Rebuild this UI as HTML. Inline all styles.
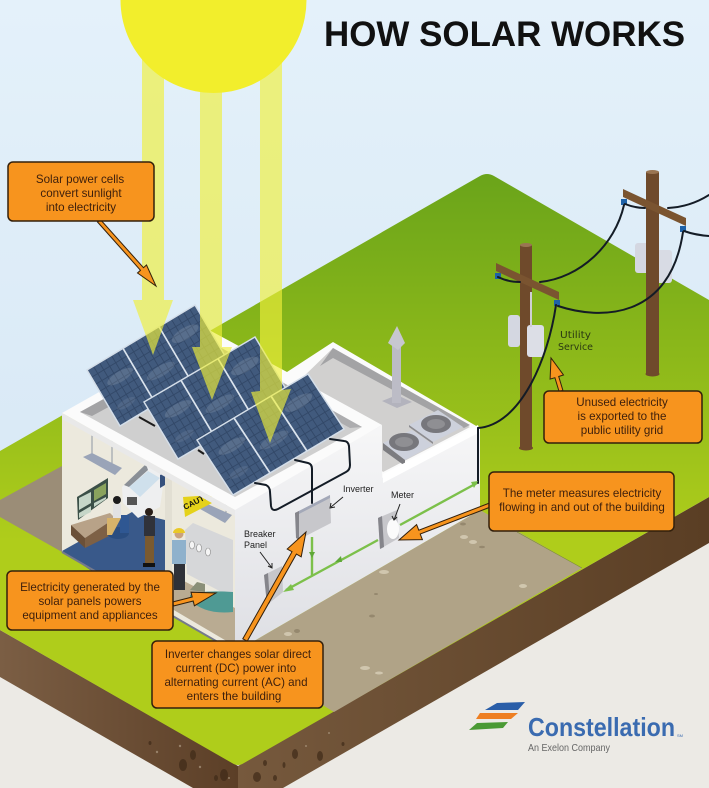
<!DOCTYPE html>
<html lang="en">
<head>
<meta charset="utf-8">
<title>How Solar Works</title>
<style>
html,body{margin:0;padding:0;width:709px;height:788px;overflow:hidden;background:#eceae5}
svg{display:block;filter:blur(.3px)}
text{font-family:"Liberation Sans",sans-serif}
.c{fill:#f7941e;stroke:#33200c;stroke-width:1.5}
.ct{fill:#3d1f0c;font-size:11.6px;text-anchor:middle}
.ar{fill:#f7941e;stroke:#33200c;stroke-width:1;stroke-linejoin:miter}
.w{fill:none;stroke:#141c26;stroke-width:2;stroke-linecap:round}
.l{fill:#222;font-size:9px}
.ld{stroke:#222;stroke-width:1;fill:none}
.g{fill:none;stroke:#7cc04a;stroke-width:2.4}
</style>
</head>
<body>
<svg width="709" height="788" viewBox="0 0 709 788" xmlns="http://www.w3.org/2000/svg">
<defs>
<linearGradient id="sky" x1="0" y1="0" x2="0" y2="1"><stop offset="0" stop-color="#e4f1fa"/><stop offset="1" stop-color="#d9e9f6"/></linearGradient>
<linearGradient id="grass" gradientUnits="userSpaceOnUse" x1="0" y1="173" x2="0" y2="540"><stop offset="0" stop-color="#6aa41a"/><stop offset="1" stop-color="#afcd1b"/></linearGradient>
<linearGradient id="soilL" gradientUnits="userSpaceOnUse" x1="0" y1="0" x2="238" y2="0"><stop offset="0" stop-color="#7b5e44"/><stop offset="1" stop-color="#5c3f27"/></linearGradient>
<linearGradient id="soilR" gradientUnits="userSpaceOnUse" x1="238" y1="0" x2="709" y2="0"><stop offset="0" stop-color="#76593d"/><stop offset="1" stop-color="#5a3e24"/></linearGradient>
<linearGradient id="wall" gradientUnits="userSpaceOnUse" x1="0" y1="430" x2="0" y2="640"><stop offset="0" stop-color="#f6f6f7"/><stop offset="1" stop-color="#dfe0e5"/></linearGradient>
<pattern id="cells" patternUnits="userSpaceOnUse" width="16.66" height="12.5">
<rect width="16.66" height="12.5" fill="#415a7d"/>
<rect x="0" y="0" width="2.2" height="12.5" fill="#324868"/>
<rect x="0" y="0" width="16.66" height="1.4" fill="#324868"/>
</pattern>
<g id="row">
<rect x="0" y="0" width="300" height="100" fill="url(#cells)"/>
<ellipse cx="60" cy="35" rx="35" ry="8" fill="#fff" opacity=".12"/>
<ellipse cx="150" cy="60" rx="38" ry="8" fill="#fff" opacity=".11"/>
<ellipse cx="245" cy="30" rx="36" ry="9" fill="#fff" opacity=".12"/>
<ellipse cx="40" cy="75" rx="25" ry="6" fill="#fff" opacity=".08"/>
<rect x="98" y="0" width="4" height="100" fill="#dbe4ee"/>
<rect x="198" y="0" width="4" height="100" fill="#dbe4ee"/>
<rect x="0" y="0" width="300" height="100" fill="none" stroke="#d4dee9" stroke-width="1.5" vector-effect="non-scaling-stroke"/>
</g>
</defs>

<!-- background -->
<rect width="709" height="788" fill="#eceae5"/>
<rect width="709" height="470" fill="url(#sky)"/>

<!-- soil -->
<polygon points="0,630 238,766 238,788 193,788 0,677" fill="url(#soilL)"/>
<polygon points="238,766 709,497 709,543 283,788 238,788" fill="url(#soilR)"/>

<!-- ground -->
<path d="M0,451 L480,176 Q487,172 494,176 L709,300 L709,497 L244,763 Q238,767 232,763 L0,630 Z" fill="url(#grass)"/>

<!-- soil speckles -->
<g fill="#3f2a18" opacity=".7">
<ellipse cx="224" cy="775" rx="4" ry="6"/><ellipse cx="193" cy="755" rx="3" ry="5"/><ellipse cx="183" cy="765" rx="4" ry="6"/><ellipse cx="216" cy="778" rx="2" ry="3"/><ellipse cx="150" cy="743" rx="1.5" ry="2"/>
<ellipse cx="257" cy="777" rx="4" ry="5"/><ellipse cx="275" cy="778" rx="2" ry="3"/><ellipse cx="265" cy="763" rx="2" ry="3"/><ellipse cx="284" cy="765" rx="1.5" ry="3"/><ellipse cx="295" cy="754" rx="3" ry="5"/><ellipse cx="320" cy="756" rx="3" ry="5"/><ellipse cx="343" cy="744" rx="1.5" ry="2"/>
</g>
<g fill="#b8a68f" opacity=".6">
<circle cx="180" cy="746" r="1.2"/><circle cx="157" cy="752" r="1.2"/><circle cx="200" cy="767" r="1.2"/><circle cx="229" cy="778" r="1"/><circle cx="329" cy="733" r="1"/><circle cx="306" cy="746" r="1"/>
</g>

<!-- tan pads -->
<polygon points="0,500 62,466 62,552 0,517" fill="#9b8d77"/>
<polygon points="480,510 582,568 334,712 235,652" fill="#b0a387"/>
<line x1="517" y1="532" x2="582" y2="568" stroke="#7e8f35" stroke-width=".7"/>
<g fill="#8f8269" opacity=".8"><ellipse cx="463" cy="524" rx="3" ry="1.5"/><ellipse cx="482" cy="547" rx="3" ry="1.3"/><ellipse cx="372" cy="616" rx="3" ry="1.5"/><ellipse cx="297" cy="631" rx="3" ry="2"/><ellipse cx="376" cy="594" rx="2" ry="1"/><ellipse cx="298" cy="653" rx="3" ry="1.5"/></g>
<g fill="#d8cfb8" opacity=".8"><ellipse cx="464" cy="537" rx="4" ry="2"/><ellipse cx="473" cy="542" rx="4" ry="2"/><ellipse cx="384" cy="572" rx="5" ry="2"/><ellipse cx="523" cy="586" rx="4" ry="2"/><ellipse cx="288" cy="634" rx="4" ry="2"/><ellipse cx="365" cy="668" rx="5" ry="2"/><ellipse cx="379" cy="673" rx="4" ry="1.5"/></g>

<!-- back section roof -->
<polygon points="209,330 287,372 333,342 478,427 383,482 209,440" fill="#fbfbfb"/>
<polygon points="300,380 333,348 470,427 383,472" fill="#d1d0cf"/>
<polygon points="320,366 333,348 470,425 464,428 333,358" fill="#a3a3a5"/>

<!-- vent -->
<polygon points="382,401 397,395 412,402 397,408" fill="#b3b3bd"/>
<rect x="392" y="343" width="9" height="60" fill="#bcbcc6"/>
<polygon points="397,326 405,343 398,350 388,343" fill="#c7c7cf"/>

<!-- fans -->
<g>
<polygon points="409,425 438,410 463,427 433,442" fill="#cdd1dc"/>
<polygon points="409,425 433,442 433,444 409,427" fill="#8c8c90"/>
<ellipse cx="436" cy="424" rx="15" ry="9" fill="#77777c"/>
<ellipse cx="436" cy="424" rx="9" ry="5" fill="#8f8f93"/>
<polygon points="383,443 412,430 433,445 405,460" fill="#cdd1dc"/>
<polygon points="383,443 405,460 405,466 383,450" fill="#7c7c80"/>
<ellipse cx="404" cy="442" rx="15" ry="9" fill="#77777c"/>
<ellipse cx="404" cy="442" rx="9" ry="5" fill="#8f8f93"/>
</g>

<!-- outer walls -->
<polygon points="235,508 382,425 382,478 480,427 480,510 235,652" fill="url(#wall)"/>
<polygon points="383,474 478,425 480,432 383,483" fill="#fff"/>

<!-- interior cutaway -->
<polygon points="62,413 235,508 235,652 62,552" fill="#ece9dd"/>
<polygon points="62,551 132,512 165,520 165,590 120,590" fill="#39598a"/>
<polygon points="167,572 235,608 235,646 167,606" fill="#b9ab92"/>
<polygon points="165,473 172,477 172,600 165,600" fill="#e2dfd3"/>
<line x1="62" y1="552" x2="235" y2="652" stroke="#757a8b" stroke-width="2"/>

<!-- lamps -->
<g stroke="#8e96a4" stroke-width="1"><line x1="92" y1="430" x2="92" y2="455"/><line x1="112" y1="440" x2="112" y2="465"/><line x1="207" y1="490" x2="207" y2="505"/><line x1="226" y1="500" x2="226" y2="518"/></g>
<polygon points="83,457 92,453 122,468 115,475" fill="#9aa4b8"/>
<polygon points="193,505 203,502 232,515 225,523" fill="#9aa4b8"/>

<!-- monitors -->
<polygon points="77,497 108,478 108,498 78,520" fill="#3b4f47"/>
<polygon points="79,498 91,492 91,503 79,510" fill="#c6d6c8"/>
<polygon points="94,490 106,483 106,494 94,501" fill="#8aa35d"/>
<polygon points="79,513 91,506 91,512 79,518" fill="#c6d6c8"/>
<polygon points="94,503 106,497 106,499 94,507" fill="#c6d6c8"/>

<!-- desk -->
<polygon points="71,525 110,513 115,518 85,538" fill="#b8a288"/>
<polygon points="71,525 85,538 85,548 71,535" fill="#6b5038"/>
<polygon points="85,538 115,518 115,533 85,548" fill="#7d6045"/>

<!-- copier -->
<polygon points="122,487 147,463 165,473 160,507 138,518 123,503" fill="#eeeff0"/>
<polygon points="124,485 146,464 148,470 129,487" fill="#8a8f96"/>
<polygon points="129,487 148,471 160,478 140,497" fill="#cfe0ec"/>
<rect x="127" y="497" width="10" height="8" fill="#555"/>
<polygon points="160,475 165,473 165,485 160,488" fill="#35507c"/>

<!-- seated person -->
<ellipse cx="118" cy="533" rx="11" ry="6" fill="#2a4d80"/>
<rect x="120" y="515" width="9" height="18" fill="#2f5792"/>
<circle cx="117" cy="500" r="4" fill="#1b1b1b"/>
<rect x="113" y="504" width="8" height="14" fill="#e2e2e2"/>
<polygon points="107,518 121,518 112,535 107,535" fill="#d7b36a"/>

<!-- standing person 1 -->
<circle cx="149" cy="512" r="4" fill="#2a1f18"/>
<rect x="144" y="516" width="11" height="20" fill="#30323a"/>
<rect x="145" y="536" width="9" height="28" fill="#7a5a30"/>
<rect x="143" y="563" width="12" height="4" fill="#111"/>

<!-- cabinet -->
<polygon points="185,530 193,523 233,540 233,598 187,574" fill="#d6d7d9"/>
<g fill="#f5f5f5" stroke="#8c8c8c" stroke-width=".6"><ellipse cx="192" cy="545" rx="2.5" ry="4"/><ellipse cx="199" cy="548" rx="2.5" ry="4"/><ellipse cx="208" cy="552" rx="2.5" ry="4"/></g>
<path d="M190,595 Q200,590 233,592 L233,612 Q205,615 190,600 Z" fill="#4f9a94"/>
<path d="M190,590 l7,-8 l8,2 l0,8 Z" fill="#8a8f78"/>

<!-- standing person 2 -->
<circle cx="179" cy="534" r="4.5" fill="#caa27d"/>
<path d="M173,533 a6,5 0 0 1 12,0 Z" fill="#e9c827"/>
<rect x="172" y="540" width="14" height="24" fill="#8fb1cc"/>
<rect x="174" y="564" width="11" height="26" fill="#2f3138"/>

<!-- caution sign -->
<polygon points="183,497 212,495 212,503 185,517" fill="#e5d21a"/>
<text x="185" y="510" transform="rotate(-27 185 510)" font-size="8" font-weight="700" fill="#111">CAUTI</text>

<!-- front section roof -->
<polygon points="62,413 209,330 382,425 235,510" fill="#fbfbfb"/>
<polygon points="80,412 209,341 362,427 235,497" fill="#cfcfcf"/>
<polygon points="80,412 209,341 213,350 92,416" fill="#a3a3a5"/>
<polygon points="209,341 362,427 350,428 211,350" fill="#adadaf"/>
<polygon points="62,413 235,510 235,516 62,419" fill="#e9e9e9"/>

<!-- mounts -->
<g stroke="#1c1c1c" stroke-width="2"><line x1="139" y1="417" x2="155" y2="426"/><line x1="198" y1="450" x2="204" y2="454"/></g>

<!-- panels -->
<use href="#row" transform="matrix(.36 -.2167 .33 .56 87 370)"/>
<use href="#row" transform="matrix(.37 -.2167 .34 .57 144 402)"/>
<use href="#row" transform="matrix(.37 -.22 .36 .55 197 440)"/>

<!-- wall wiring -->
<path class="w" d="M255,483 L266,485 Q270,487 270,492 L271,506 Q272,512 278,509 L346,472 Q350,470 350,465 L349,446 Q348,441 344,441 L330,439"/>
<path class="w" d="M295,460 L308,463 Q312,464 312,469 L312,503"/>
<path class="w" d="M478,428 L478,483" stroke-width="1.6"/>

<!-- green lines -->
<path class="g" d="M477,483 L400,525"/>
<polygon points="478,481 471,482 474,488" fill="#7cc04a"/>
<path class="g" d="M378,540 L286,590"/>
<polygon points="283,592 291,584 294,590" fill="#7cc04a"/>
<path class="g" d="M312,537 L312,575"/>
<polygon points="309,552 315,552 312,558" fill="#5fa838"/>
<polygon points="335,562 341,556 342,562" fill="#5fa838"/>

<!-- inverter, meter, breaker -->
<polygon points="295,513 330,495 331,523 298,540" fill="#c7c7cb"/>
<polygon points="295,513 330,495 330,498 299,514" fill="#a3a8b8"/>
<polygon points="295,513 299,511 299,540 296,538" fill="#85858b"/>
<polygon points="378,518 397,510 399,538 380,549" fill="#c7c7cb"/>
<polygon points="378,518 382,516 384,547 380,549" fill="#85858b"/>
<ellipse cx="393" cy="529" rx="6" ry="10" fill="#fbfbfb"/>
<polygon points="264,575 282,566 283,592 267,605" fill="#c7c7cb"/>
<polygon points="264,575 268,573 270,603 267,605" fill="#85858b"/>

<!-- small labels -->
<text class="l" x="343" y="492">Inverter</text>
<text class="l" x="391" y="498">Meter</text>
<text class="l" x="244" y="537">Breaker</text>
<text class="l" x="244" y="548">Panel</text>
<path class="ld" d="M343,497 L331,507 M331,503 L330,508 L335,507"/>
<path class="ld" d="M400,504 L394,520 M392,516 L394,520 L397,517"/>
<path class="ld" d="M260,552 L272,568 M268,566 L272,568 L272,563"/>

<!-- poles -->
<g>
<rect x="635" y="243" width="20" height="30" rx="3" fill="#d4d7e1"/>
<rect x="655" y="250" width="17" height="33" rx="3" fill="#d8dbe4"/>
<rect x="646" y="172" width="13" height="202" fill="#6f4a2b"/>
<ellipse cx="652.5" cy="172" rx="6.5" ry="2" fill="#9a7552"/>
<ellipse cx="652.5" cy="374" rx="7" ry="2.5" fill="#6f4a2b"/>
<polygon points="623,189 686,218 686,226 623,197" fill="#7a5430"/>
<rect x="520" y="245" width="12" height="203" fill="#6f4a2b"/>
<ellipse cx="526" cy="245" rx="6" ry="2" fill="#9a7552"/>
<ellipse cx="526" cy="448" rx="7" ry="2.5" fill="#6f4a2b"/>
<rect x="508" y="315" width="12" height="32" rx="3" fill="#d4d7e1"/>
<rect x="527" y="325" width="17" height="32" rx="3" fill="#dcdee6"/>
<rect x="530" y="292" width="2" height="35" fill="#cfcfd4"/>
<polygon points="496,263 559,292 559,300 496,271" fill="#7a5430"/>
<rect x="495" y="273" width="6" height="6" fill="#1e62a8"/>
<rect x="554" y="300" width="6" height="6" fill="#1e62a8"/>
<rect x="621" y="199" width="6" height="6" fill="#1e62a8"/>
<rect x="680" y="226" width="6" height="6" fill="#1e62a8"/>
</g>

<!-- wires -->
<path class="w" d="M478,428 C520,425 548,360 556,305"/>
<path class="w" d="M558,306 C600,320 670,320 683,232"/>
<path class="w" d="M498,277 Q508,282 520,282"/>
<path class="w" d="M540,282 C580,278 615,245 624,205"/>
<path class="w" d="M625,204 Q635,208 645,208"/>
<path class="w" d="M668,208 Q690,207 709,195"/>
<path class="w" d="M684,231 Q695,235 709,236"/>

<text x="560" y="338" font-size="10" fill="#2b3a12" textLength="31" lengthAdjust="spacingAndGlyphs" style="font-family:'DejaVu Sans',sans-serif">Utility</text>
<text x="558" y="350" font-size="10" fill="#2b3a12" textLength="35" lengthAdjust="spacingAndGlyphs" style="font-family:'DejaVu Sans',sans-serif">Service</text>

<!-- sun beams -->
<g fill="#f0f03a" opacity=".65">
<polygon points="142,0 164,0 164,300 173,300 153,355 133,300 142,300"/>
<polygon points="200,0 222,0 222,347 232,347 212,400 192,347 200,347"/>
<polygon points="260,0 282,0 282,390 291,389 270,443 251,392 260,391"/>
</g>
<circle cx="213.5" cy="0" r="93" fill="#f2ee2c"/>

<!-- title -->
<text x="324" y="46" font-size="35" font-weight="700" fill="#111" textLength="361" lengthAdjust="spacingAndGlyphs">HOW SOLAR WORKS</text>

<!-- callout arrows -->
<polygon class="ar" points="97.5,222 140.5,270.3 137.5,273 156,286 146.5,265 143.5,267.7 100.5,219.7"/>
<polygon class="ar" points="242.8,638.8 292,551.7 287.2,549 306,532 301.2,556.8 296.4,554.1 247.2,641.2"/>
<polygon class="ar" points="172.5,602 192.2,597 191,592.2 216,593 194.4,605.8 193.2,601 173.5,606"/>
<polygon class="ar" points="489.3,503.1 418.8,530.2 416.6,524.6 399,540 422.4,539.6 420.2,534 490.7,506.9"/>
<polygon class="ar" points="559.1,391.6 554.9,377.7 550.1,379.1 551,358 563.5,375 558.7,376.5 562.9,390.4"/>

<!-- callouts -->
<rect class="c" x="8" y="162" width="146" height="59" rx="5"/>
<text class="ct" x="80" y="183">Solar power cells</text>
<text class="ct" x="81" y="197">convert sunlight</text>
<text class="ct" x="81" y="211">into electricity</text>

<rect class="c" x="7" y="571" width="166" height="59" rx="5"/>
<text class="ct" x="90" y="591">Electricity generated by the</text>
<text class="ct" x="90" y="605">solar panels powers</text>
<text class="ct" x="90" y="619">equipment and appliances</text>

<rect class="c" x="152" y="641" width="171" height="67" rx="5"/>
<text class="ct" x="238" y="658">Inverter changes solar direct</text>
<text class="ct" x="236" y="672">current (DC) power into</text>
<text class="ct" x="236" y="686">alternating current (AC) and</text>
<text class="ct" x="234" y="700">enters the building</text>

<rect class="c" x="489" y="472" width="185" height="59" rx="5"/>
<text class="ct" x="582" y="497">The meter measures electricity</text>
<text class="ct" x="582" y="511">flowing in and out of the building</text>

<rect class="c" x="544" y="391" width="158" height="52" rx="5"/>
<text class="ct" x="622" y="406">Unused electricity</text>
<text class="ct" x="622" y="420">is exported to the</text>
<text class="ct" x="622" y="434">public utility grid</text>

<!-- logo -->
<polygon points="485,710 497,703 525,702 518,710" fill="#2a5ea8"/>
<polygon points="476,719 480,713 518,713 511,719" fill="#ee7f22"/>
<polygon points="469,730 477,723 508,722 503,728" fill="#4a9a34"/>
<text x="528" y="736" font-size="26" font-weight="700" fill="#3a6bb0" textLength="147" lengthAdjust="spacingAndGlyphs">Constellation</text>
<text x="677" y="737" font-size="4" fill="#3a6bb0">SM</text>
<text x="528" y="751" font-size="10.5" fill="#666" textLength="82" lengthAdjust="spacingAndGlyphs">An Exelon Company</text>
</svg>
</body>
</html>
